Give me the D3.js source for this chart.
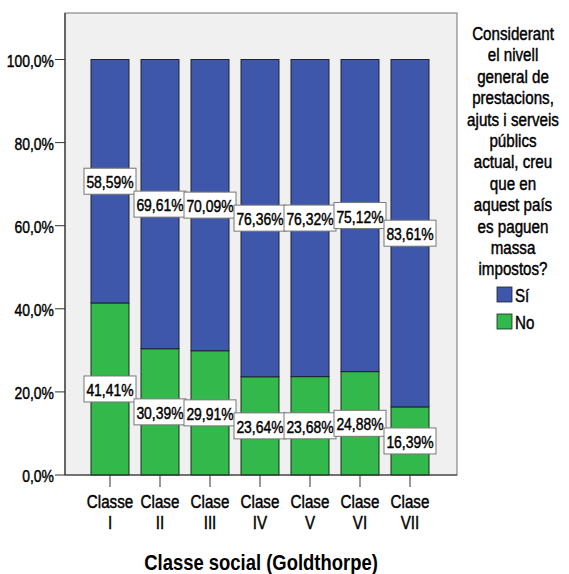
<!DOCTYPE html>
<html><head><meta charset="utf-8">
<script src="https://cdn.jsdelivr.net/npm/d3@7"></script>
<style>
body{margin:0;background:#fff;}
text{font-family:"Liberation Sans",Arial,sans-serif;}
</style></head>
<body><svg id="c" width="569" height="574"></svg>
<script>
const categories = [["Classe","I"],["Clase","II"],["Clase","III"],["Clase","IV"],["Clase","V"],["Clase","VI"],["Clase","VII"]];
const siValues = [58.59, 69.61, 70.09, 76.36, 76.32, 75.12, 83.61];
const noValues = [41.41, 30.39, 29.91, 23.64, 23.68, 24.88, 16.39];
const yTicks = [0, 20, 40, 60, 80, 100];
const legendTitle = ["Considerant","el nivell","general de","prestacions,","ajuts i serveis","públics","actual, creu","que en","aquest país","es paguen","massa","impostos?"];
const seriesNames = ["Sí","No"];
const colors = {"Sí":"#3F57AA","No":"#32B84B"};

const svg = d3.select("#c");
const NARROW = 0.82;
function txt(parent, x, y, s, size, anchor, weight){
  const t = parent.append("g").attr("transform",`translate(${x},${y}) scale(${NARROW},1)`)
    .append("text").attr("x",0).attr("y",0).attr("text-anchor",anchor||"middle")
    .attr("dominant-baseline","central").attr("font-size",size)
    .attr("font-weight",weight||"normal").attr("fill","#000").text(s);
  if(!weight) t.attr("stroke","#000").attr("stroke-width",0.45);
  return t;
}

const L=65, R=457, T=13, B=475;
svg.append("rect").attr("x",L).attr("y",T).attr("width",R-L).attr("height",B-T)
  .attr("fill","#F0F0F0").attr("stroke","#888").attr("stroke-width",1.2);

const keys = categories.map(c=>c.join(" "));
const x = d3.scaleBand().domain(keys).range([85,435]).paddingInner(0.24).paddingOuter(0.12);
const y = d3.scaleLinear().domain([0,100]).range([B,59.5]);

const fmt = v => v.toFixed(2).replace(".",",")+"%";

const g = svg.append("g");
keys.forEach((k,i)=>{
  const no = noValues[i], si = siValues[i];
  g.append("rect").attr("x",x(k)).attr("width",x.bandwidth())
    .attr("y",y(no)).attr("height",y(0)-y(no))
    .attr("fill",colors["No"]).attr("stroke","#1e2a1e").attr("stroke-width",1);
  g.append("rect").attr("x",x(k)).attr("width",x.bandwidth())
    .attr("y",y(no+si)).attr("height",y(no)-y(no+si))
    .attr("fill",colors["Sí"]).attr("stroke","#1e2233").attr("stroke-width",1);
});

function label(cx, cy, s){
  const w=52,h=26;
  g.append("rect").attr("x",cx-w/2).attr("y",cy-h/2).attr("width",w).attr("height",h)
    .attr("fill","#fff").attr("stroke","#777").attr("stroke-width",1);
  txt(g, cx, cy+1, s, 17);
}
keys.forEach((k,i)=>{
  const cx = x(k)+x.bandwidth()/2;
  const no = noValues[i], si = siValues[i];
  label(cx, y(no+si/2), fmt(si));
  label(cx, y(no/2), fmt(no));
});

// y axis
const ya = svg.append("g");
yTicks.forEach(t=>{
  ya.append("line").attr("x1",55).attr("x2",L).attr("y1",y(t)).attr("y2",y(t)).attr("stroke","#333");
  txt(ya, 54, y(t)+1, t.toFixed(1).replace(".",",")+"%", 17, "end");
});
svg.append("line").attr("x1",L).attr("x2",L).attr("y1",T).attr("y2",B).attr("stroke","#333").attr("stroke-width",1.2);
svg.append("line").attr("x1",L).attr("x2",R).attr("y1",B).attr("y2",B).attr("stroke","#333").attr("stroke-width",1.2);

// x axis
keys.forEach((k,i)=>{
  const cx = x(k)+x.bandwidth()/2;
  svg.append("line").attr("x1",cx).attr("x2",cx).attr("y1",B).attr("y2",B+12).attr("stroke","#333");
  txt(svg, cx, 502, categories[i][0], 18.5);
  txt(svg, cx, 523, categories[i][1], 18.5);
});
txt(svg, 261, 562, "Classe social (Goldthorpe)", 22.5, "middle", "bold");

// legend
const lg = svg.append("g");
legendTitle.forEach((s,i)=>{
  txt(lg, 513, 34+i*21.4, s, 18.5);
});
seriesNames.forEach((s,i)=>{
  const yy = 287+i*27;
  lg.append("rect").attr("x",497).attr("y",yy).attr("width",15).attr("height",15)
    .attr("fill",colors[s]).attr("stroke","#222").attr("stroke-width",0.8);
  txt(lg, 515, yy+8.5, s, 18.5, "start");
});
</script></body></html>
